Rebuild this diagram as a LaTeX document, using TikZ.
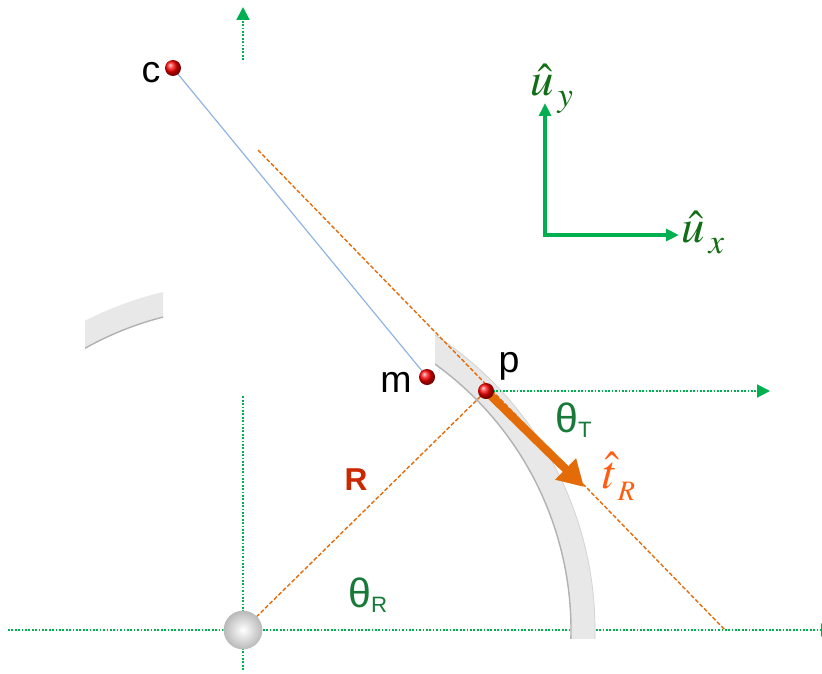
\documentclass[tikz,border=0pt]{standalone}
\usepackage{mathptmx}
\usepackage{fontspec}
\setmainfont{Liberation Sans}
\usetikzlibrary{arrows.meta,backgrounds}

\definecolor{axisgreen}{RGB}{0,176,80}
\definecolor{labgreen}{RGB}{24,122,56}
\definecolor{ugreen}{RGB}{18,110,22}
\definecolor{guideorange}{RGB}{228,108,10}
\definecolor{arrorange}{RGB}{227,108,9}
\definecolor{tanorange}{RGB}{255,92,16}
\definecolor{rred}{RGB}{204,40,0}
\definecolor{cmblue}{RGB}{141,179,226}

\begin{document}
\begin{tikzpicture}[
  x=0.03cm, y=-0.03cm,
  axis/.style={axisgreen, line width=1.7pt, dash pattern=on 1.5pt off 1.4pt},
  axisarr/.style={axis, -{Triangle[length=11pt, width=11pt]}},
  guide/.style={guideorange, line width=1.2pt, dash pattern=on 3.5pt off 1.8pt},
  unitarr/.style={axisgreen, line width=2.6pt, -{Triangle[length=11pt, width=10pt]}},
  tarr/.style={arrorange, line width=7pt, -{Triangle[length=22pt, width=24pt]}},
  band/.style={gray!18, line width=21pt},
  inedge/.style={gray!60, line width=1.2pt},
  outedge/.style={gray!35, line width=0.6pt},
  redball/.style={circle, inner sep=0pt, minimum size=0.48cm, shading=ball, ball color=red},
  whiteball/.style={circle, inner sep=0pt, minimum size=1.16cm, shading=radial, inner color=white, outer color=gray!55},
  lbl/.style={font=\fontsize{32}{34}\selectfont, inner sep=0pt},
  thlab/.style={labgreen, font=\fontsize{35}{38}\selectfont, inner sep=0pt},
  mlab/.style={font=\fontsize{40}{44}\selectfont, inner sep=0pt}
]
\useasboundingbox (0,0) rectangle (822,673);

% ---------- Points ----------
\coordinate (O) at (243,630);
\coordinate (c) at (173,68);
\coordinate (m) at (427,377);
\coordinate (p) at (486,391);
\coordinate (tR) at (584,487);
\coordinate (tanA) at (258,150);
\coordinate (tanB) at (725,630);

% ---------- Axes ----------
\coordinate (xL) at (8,630);
\coordinate (xR) at (834,630);
\coordinate (yL) at (243,670);
\coordinate (yM) at (243,395);
\coordinate (yU) at (243,60);
\coordinate (yT) at (243,7);
\coordinate (pax) at (770,391);
\draw[axisarr] (xL) -- (xR);
\draw[axis] (yL) -- (yM);
\draw[axisarr] (yU) -- (yT);

% ---------- Track ----------
\begin{scope}
  \clip (435,0) rectangle (822,638);
  \draw[band] (O) ++(3:340) arc[start angle=3, end angle=-62, radius=340];
  \draw[inedge] (O) ++(3:328) arc[start angle=3, end angle=-62, radius=328];
  \draw[outedge] (O) ++(3:352) arc[start angle=3, end angle=-62, radius=352];
\end{scope}
\begin{scope}
  \clip (85,0) rectangle (163,673);
  \draw[band] (O) ++(-98:335) arc[start angle=-98, end angle=-124, radius=335];
  \draw[inedge] (O) ++(-98:323) arc[start angle=-98, end angle=-124, radius=323];
\end{scope}

% ---------- Guides ----------
\draw[guide] (tanA) -- (tanB);
\draw[guide] (O) -- (p);
\draw[cmblue, line width=1pt] (c) -- (m);
\draw[axisarr] (p) -- (pax);
\draw[tarr] (p) -- (tR);

% ---------- Unit vectors ----------
\coordinate (u0) at (545,235);
\coordinate (uy) at (545,103);
\coordinate (ux) at (679,235);
\draw[unitarr] (u0) -- (uy);
\draw[unitarr] ([xshift=-1.3pt]u0) -- (ux);

% ---------- Balls ----------
\node[whiteball] (Oball) at (O) {};
\node[redball] (cball) at (c) {};
\node[redball] (mball) at (m) {};
\node[redball] (pball) at (p) {};

% ---------- Labels ----------
\node[lbl, anchor=base] (clab) at (151,82) {c};
\node[lbl, anchor=base] (mlab) at (396,392) {m};
\node[lbl, anchor=base] (plab) at (509,372) {p};
\node[lbl, rred, anchor=base, font=\fontsize{27}{30}\selectfont\bfseries] (Rlab) at (356,490) {R};
\node[thlab, anchor=base west] (thT) at (555,432)
  {θ\raisebox{-5pt}{\fontsize{19}{20}\selectfont T}};
\node[thlab, anchor=base west] (thR) at (348,607)
  {θ\raisebox{-5pt}{\fontsize{19}{20}\selectfont R}};
\node[mlab, tanorange, anchor=base west] (tlab) at (602,488)
  {$\hat{t}_{\,\lower5pt\hbox{$\scriptscriptstyle R$}}$};
\node[mlab, ugreen, anchor=base west] (uylab) at (530,95)
  {$\hat{u}_{\,\lower4pt\hbox{$\scriptstyle y$}}$};
\node[mlab, ugreen, anchor=base west] (uxlab) at (681,242)
  {$\hat{u}_{\,\lower4pt\hbox{$\scriptstyle x$}}$};
\end{tikzpicture}
\end{document}
